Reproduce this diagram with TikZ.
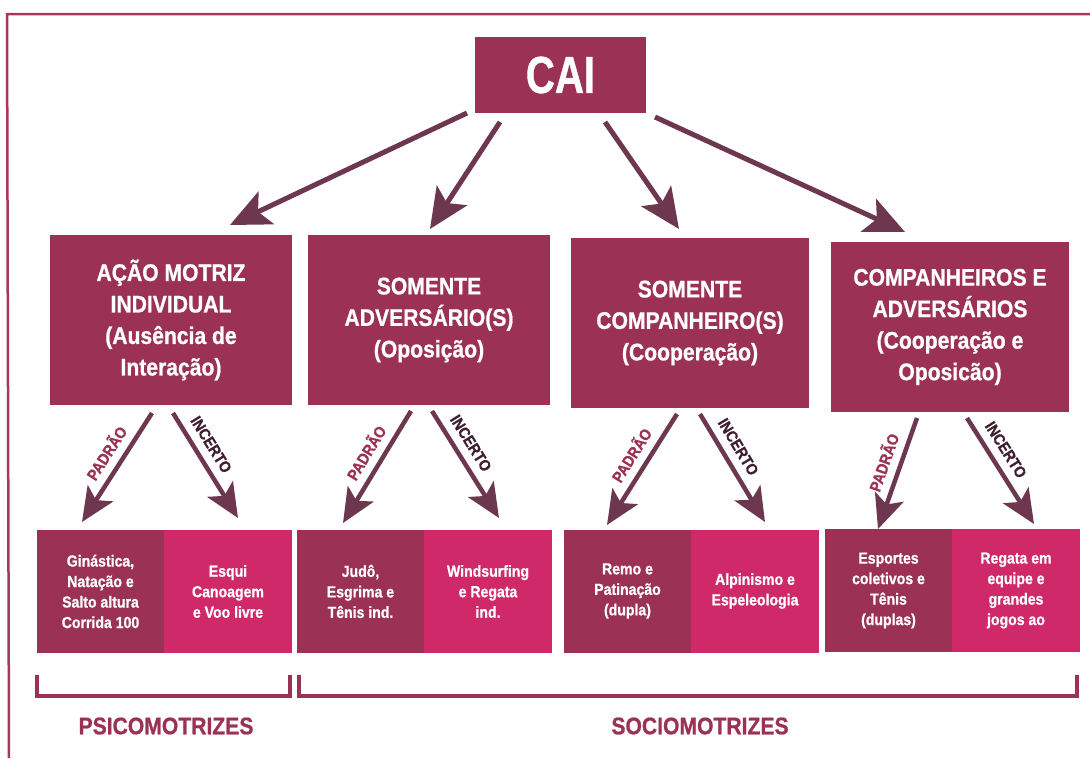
\documentclass[tikz,border=0pt]{standalone}
\usepackage{fontspec}
\setmainfont{Liberation Sans}[FakeStretch=0.88, BoldFeatures={FakeBold=0.8}]
\usetikzlibrary{arrows.meta}
\definecolor{wine}{HTML}{9B3255}
\definecolor{rose}{HTML}{CF2969}
\definecolor{arrowc}{HTML}{6E3750}
\definecolor{framec}{HTML}{A33A5E}
\definecolor{darklab}{HTML}{3E1F30}
\begin{document}
\begin{tikzpicture}[x=1pt,y=-1pt,
  topbox/.style={fill=wine, text=white, inner sep=0pt, align=center,
    font=\bfseries\fontsize{24}{31.5}\selectfont, minimum height=170pt},
  leafbox/.style={inner sep=0pt, text=white, align=center,
    font=\bfseries\fontsize{16}{20.5}\selectfont, minimum height=123pt},
  darkleaf/.style={leafbox, fill=wine},
  pinkleaf/.style={leafbox, fill=rose},
  bigarrow/.style={draw=arrowc, line width=5pt,
    -{Stealth[length=40pt,width=36pt,inset=9pt]}},
  smallarrow/.style={draw=arrowc, line width=4.5pt,
    -{Stealth[length=34pt,width=30pt,inset=8pt]}},
  padlab/.style={sloped, above=8pt, inner sep=0pt, text=wine,
    font=\bfseries\fontsize{16}{16}\selectfont},
  inclab/.style={sloped, above=8pt, inner sep=0pt, text=darklab,
    font=\bfseries\fontsize{16}{16}\selectfont},
  bracket/.style={draw=wine, line width=4pt},
  grouplab/.style={text=wine, inner sep=0pt,
    font=\bfseries\fontsize{24}{24}\selectfont}
]
\useasboundingbox (0,0) rectangle (1090,758);
\fill[white] (0,0) rectangle (1090,758);

% frame
\draw[framec, line width=2.5pt] (1090,14) -- (7,14) -- (9,758);

% root
\node[fill=wine, text=white, inner sep=0pt, minimum width=171pt, minimum height=76pt,
  font=\bfseries\fontsize{52}{52}\selectfont] (cai) at (560.5,75) {\scalebox{0.88}[1]{CAI}};

% level 2
\node[topbox, minimum width=242pt] (b1) at (171,320) {AÇÃO MOTRIZ\\INDIVIDUAL\\(Ausência de\\Interação)};
\node[topbox, minimum width=242pt] (b2) at (429,320) {SOMENTE\\ADVERSÁRIO(S)\\(Oposição)};
\node[topbox, minimum width=238pt] (b3) at (690,323) {SOMENTE\\COMPANHEIRO(S)\\(Cooperação)};
\node[topbox, minimum width=238pt] (b4) at (950,327) {COMPANHEIROS E\\ADVERSÁRIOS\\(Cooperação e\\Oposicão)};

% level 3
\node[darkleaf, minimum width=127pt] (l1) at (100.5,591.5) {Ginástica,\\Natação e\\Salto altura\\Corrida 100};
\node[pinkleaf, minimum width=128pt] (r1) at (228,591.5) {Esqui\\Canoagem\\e Voo livre};
\node[darkleaf, minimum width=127pt] (l2) at (360.5,591.5) {Judô,\\Esgrima e\\Tênis ind.};
\node[pinkleaf, minimum width=128pt] (r2) at (488,591.5) {Windsurfing\\e Regata\\ind.};
\node[darkleaf, minimum width=127pt] (l3) at (627.5,591) {Remo e\\Patinação\\(dupla)};
\node[pinkleaf, minimum width=128pt] (r3) at (755,591) {Alpinismo e\\Espeleologia};
\node[darkleaf, minimum width=127pt] (l4) at (888.5,590.5) {Esportes\\coletivos e\\Tênis\\(duplas)};
\node[pinkleaf, minimum width=128pt] (r4) at (1016,590.5) {Regata em\\equipe e\\grandes\\jogos ao};

% connector end points
\coordinate (c1) at (467,113);  \coordinate (t1) at (230,225);
\coordinate (c2) at (500,122);  \coordinate (t2) at (430,229);
\coordinate (c3) at (605,122);  \coordinate (t3) at (679,229);
\coordinate (c4) at (655,117);  \coordinate (t4) at (905,232);

\draw[bigarrow] (c1) -- (t1);
\draw[bigarrow] (c2) -- (t2);
\draw[bigarrow] (c3) -- (t3);
\draw[bigarrow] (c4) -- (t4);

\coordinate (p1s) at (152,413); \coordinate (p1t) at (82,522);
\coordinate (i1s) at (173,413); \coordinate (i1t) at (238,518);
\coordinate (p2s) at (411,411); \coordinate (p2t) at (343,523);
\coordinate (i2s) at (432,411); \coordinate (i2t) at (499,518);
\coordinate (p3s) at (677,414); \coordinate (p3t) at (607,525);
\coordinate (i3s) at (700,414); \coordinate (i3t) at (765,522);
\coordinate (p4s) at (917,418); \coordinate (p4t) at (878,529);
\coordinate (i4s) at (967,418); \coordinate (i4t) at (1034,524);

\draw[smallarrow] (p1s) -- node[padlab, pos=0.45] {PADRÃO} (p1t);
\draw[smallarrow] (i1s) -- node[inclab, pos=0.38] {INCERTO} (i1t);
\draw[smallarrow] (p2s) -- node[padlab, pos=0.45] {PADRÃO} (p2t);
\draw[smallarrow] (i2s) -- node[inclab, pos=0.38] {INCERTO} (i2t);
\draw[smallarrow] (p3s) -- node[padlab, pos=0.45] {PADRÃO} (p3t);
\draw[smallarrow] (i3s) -- node[inclab, pos=0.38] {INCERTO} (i3t);
\draw[smallarrow] (p4s) -- node[padlab, pos=0.45] {PADRÃO} (p4t);
\draw[smallarrow] (i4s) -- node[inclab, pos=0.38] {INCERTO} (i4t);

% brackets
\draw[bracket] (37,675) |- (290,696) -- (290,675);
\draw[bracket] (299,675) |- (1077,696) -- (1077,675);
\node[grouplab] (psico) at (166,726) {PSICOMOTRIZES};
\node[grouplab] (socio) at (700,726) {SOCIOMOTRIZES};
\end{tikzpicture}
\end{document}
